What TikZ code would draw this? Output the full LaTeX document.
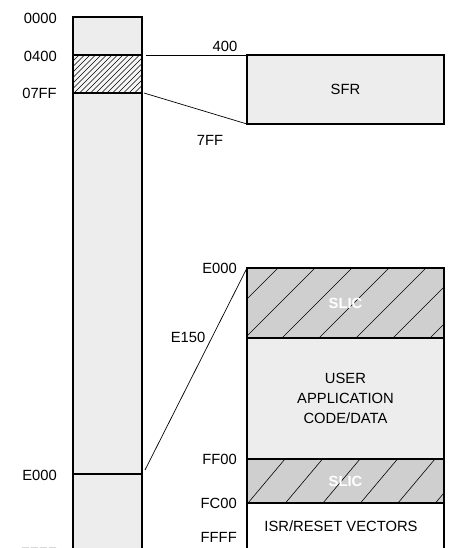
\documentclass[tikz,border=0pt]{standalone}
\usepackage{fontspec}
\setmainfont{Liberation Sans}
\definecolor{memlight}{gray}{0.93}
\definecolor{slicgray}{gray}{0.81}
\begin{document}
\begin{tikzpicture}[x=0.03cm,y=-0.03cm,font=\fontsize{12.6}{17}\selectfont,
  frame/.style={line width=1.3pt},
  link/.style={line width=0.6pt},
  hatch/.style={line width=0.5pt},
  addr/.style={anchor=east,inner sep=0pt},
  slic/.style={text=white,font=\fontsize{12.6}{17}\selectfont\bfseries}]
  \useasboundingbox (0,0) rectangle (456,548);
  \clip (0,0) rectangle (456,548);
  % memory bar
  \fill[memlight] (73,17) rectangle (142,560);
  \fill[white!50!memlight] (73,55) rectangle (142,93);
  \begin{scope}
    \clip (73,55) rectangle (142,93);
    \foreach \x in {30,35.5,...,150} \draw[hatch] (\x,93) -- ++(38,-38);
  \end{scope}
  \draw[frame] (73,17) rectangle (142,560);
  \draw[frame] (73,55) -- (142,55);
  \draw[frame] (73,93) -- (142,93);
  \draw[frame] (73,474) -- (142,474);
  \node[addr] (a0000) at (57,18) {0000};
  \node[addr] (a0400) at (57,56) {0400};
  \node[addr] (a07ff) at (57,93) {07FF};
  \node[addr] (ae000) at (57,475) {E000};
  \node[addr] (affff) at (57,553) {FFFF};
  % SFR box
  \fill[memlight] (247,55) rectangle (444,124);
  \draw[frame] (247,55) rectangle (444,124);
  \node (sfr) at (345.5,89.5) {SFR};
  \node (s400) at (225,46) {400};
  \node (s7ff) at (210,140) {7FF};
  % lower box
  \fill[slicgray] (247,268) rectangle (444,338);
  \fill[memlight] (247,338) rectangle (444,459);
  \fill[slicgray] (247,459) rectangle (444,503);
  \fill[white] (247,503) rectangle (444,560);
  \begin{scope}
    \clip (247,268) rectangle (444,338);
    \foreach \x in {134,171,...,450} \draw[hatch] (\x,338) -- ++(70,-70);
  \end{scope}
  \begin{scope}
    \clip (247,459) rectangle (444,503);
    \foreach \x in {173,210.5,...,450} \draw[hatch] (\x,503) -- ++(37,-44);
  \end{scope}
  \draw[frame] (247,268) rectangle (444,560);
  \draw[frame] (247,338) -- (444,338);
  \draw[frame] (247,459) -- (444,459);
  \draw[frame] (247,503) -- (444,503);
  \node[slic] (slictop) at (345.5,303) {SLIC};
  \node[align=center] (user) at (345.5,398) {USER\\APPLICATION\\CODE/DATA};
  \node[slic] (slicbot) at (345.5,481) {SLIC};
  \node (isr) at (341,526) {ISR/RESET VECTORS};
  \node[addr] (le000) at (237,268) {E000};
  \node (le150) at (188,337) {E150};
  \node[addr] (lff00) at (237,459) {FF00};
  \node[addr] (lfc00) at (237,503) {FC00};
  \node[addr] (lffff) at (237,537) {FFFF};
  % connectors
  \coordinate (bar400) at (146,55);
  \coordinate (bar7ff) at (144,93);
  \coordinate (bare000) at (145,470);
  \coordinate (sfrnw) at (247,55);
  \coordinate (sfrsw) at (247,124);
  \coordinate (slicnw) at (247,268);
  \draw[link] (bar400) -- (sfrnw);
  \draw[link] (bar7ff) -- (sfrsw);
  \draw[link] (bare000) -- (slicnw);
\end{tikzpicture}
\end{document}
